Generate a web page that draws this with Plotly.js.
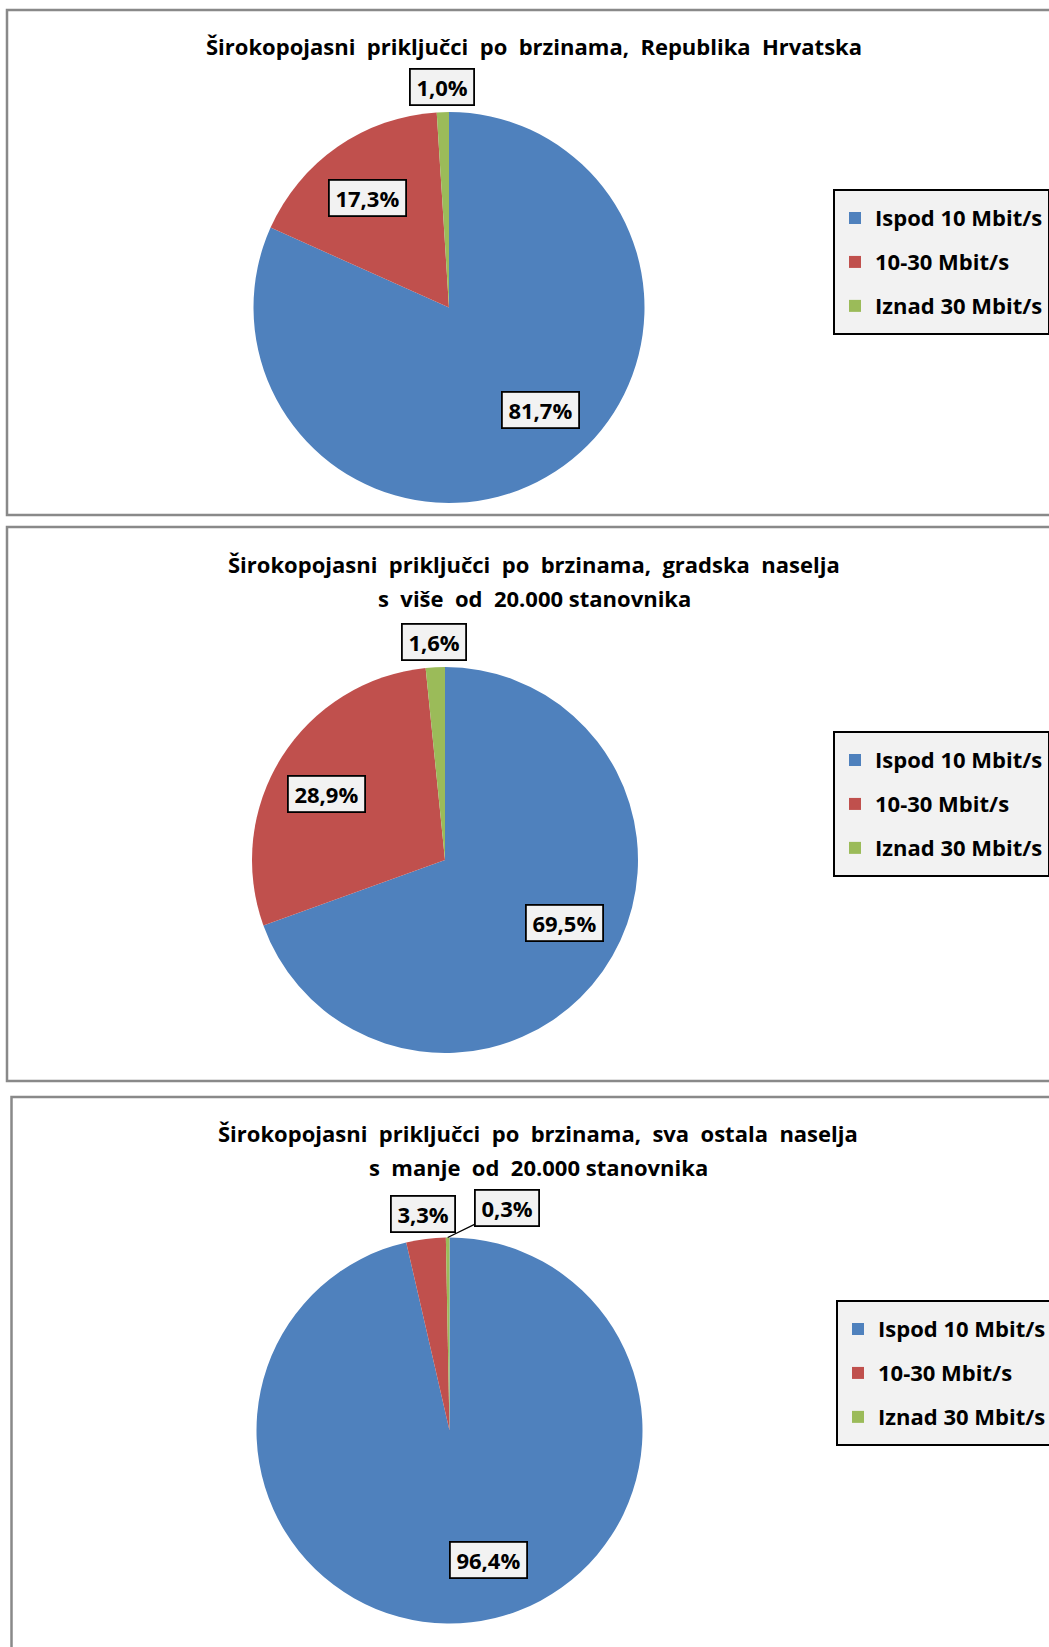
<!DOCTYPE html>
<html>
<head>
<meta charset="utf-8">
<script src="https://cdn.plot.ly/plotly-3.0.1.min.js"></script>
<style>html,body{margin:0;padding:0;background:#fff;}#chart{width:1049px;height:1647px;}</style>
</head>
<body>
<div id="chart"></div>
<script>
// ---- data ----
const categories = ['Ispod 10 Mbit/s', '10-30 Mbit/s', 'Iznad 30 Mbit/s'];
const valuesHrvatska = [81.7, 17.3, 1.0];
const valuesGradska = [69.5, 28.9, 1.6];
const valuesOstala = [96.4, 3.3, 0.3];
const titleHrvatska = ['Širokopojasni  priključci  po  brzinama,  Republika  Hrvatska'];
const titleGradska = ['Širokopojasni  priključci  po  brzinama,  gradska  naselja', 's  više  od  20.000 stanovnika'];
const titleOstala = ['Širokopojasni  priključci  po  brzinama,  sva  ostala  naselja', 's  manje  od  20.000 stanovnika'];
const sliceColors = ['#4F81BD', '#C0504D', '#9BBB59'];

// ---- layout geometry (pixels) ----
const W = 1049, H = 1647;
const FONT = 'Open Sans, Liberation Sans, Arial, sans-serif';
const TITLE_LINE_GAP = 33.5;
const panels = [
  {values: valuesHrvatska, title: titleHrvatska, top: 10, bottom: 515, left: 7, cx: 449, cy: 307.5, r: 195.5, tx: 534, ty: 46, lx: 833, ly: 189, legend: 'legend', group: 'hr'},
  {values: valuesGradska, title: titleGradska, top: 527, bottom: 1081, left: 7, cx: 445, cy: 860, r: 193, tx: 534, ty: 564, lx: 833, ly: 731, legend: 'legend2', group: 'grad'},
  {values: valuesOstala, title: titleOstala, top: 1097, bottom: 1680, left: 11.5, cx: 449.5, cy: 1430.5, r: 193, tx: 538, ty: 1133, lx: 836, ly: 1300, legend: 'legend3', group: 'ost'}
];

const px = x => x / W;
const py = y => 1 - y / H;
const fmt = v => v.toFixed(1).replace('.', ',') + '%';
// approximate advance widths (em) of the label font, used only to size label boxes
const charEm = ch => ch === ',' ? 0.29 : ch === '%' ? 0.87 : 0.572;
const LABEL_SIZE = 22;
const textWidth = s => s.split('').reduce((a, c) => a + charEm(c) * LABEL_SIZE, 0);

const traces = [];
const shapes = [];
const annotations = [];
const layout = {
  width: W, height: H,
  margin: {l: 0, r: 0, t: 0, b: 0, autoexpand: false},
  paper_bgcolor: '#ffffff',
  showlegend: true,
  font: {family: FONT, color: '#000'}
};

panels.forEach(p => {
  traces.push({
    type: 'pie',
    labels: categories.map(c => '<span style="font-size:22px;baseline-shift:4px">' + c + '</span>'),
    values: p.values,
    sort: false,
    direction: 'clockwise',
    rotation: 0,
    textinfo: 'none',
    hoverinfo: 'label+percent',
    marker: {colors: sliceColors, line: {width: 0}},
    domain: {x: [px(p.cx - p.r), px(p.cx + p.r)], y: [py(p.cy + p.r), py(p.cy - p.r)]},
    legend: p.legend,
    legendgroup: p.group,
    showlegend: true
  });

  shapes.push({
    type: 'rect', xref: 'paper', yref: 'paper', layer: 'below',
    x0: px(p.left), x1: px(W + 10), y0: py(p.bottom), y1: py(p.top),
    line: {color: '#898989', width: 2.5}, fillcolor: 'rgba(0,0,0,0)'
  });

  p.title.forEach((line, k) => {
    annotations.push({
      xref: 'paper', yref: 'paper', x: px(p.tx), y: py(p.ty + k * TITLE_LINE_GAP),
      xanchor: 'center', yanchor: 'middle', showarrow: false,
      text: line, align: 'center',
      font: {family: FONT, size: 22, weight: 700, color: '#000'}
    });
  });

  layout[p.legend] = {
    x: px(p.lx), y: py(p.ly), xanchor: 'left', yanchor: 'top',
    bgcolor: '#F2F2F2', bordercolor: '#000', borderwidth: 2,
    font: {family: FONT, size: 31.5, weight: 700, color: '#000'},
    traceorder: 'normal'
  };

  // boxed data labels positioned from slice angles
  const total = p.values.reduce((a, b) => a + b, 0);
  let cum = 0;
  let prevOutside = null;
  p.values.forEach((v, i) => {
    const frac = v / total;
    const inside = frac > 0.1;
    const mid = (cum + frac * (inside ? 0.47 : 0.5)) * 2 * Math.PI;
    cum += frac;
    const text = fmt(v);
    const tw = textWidth(text) + 6;
    const boxW = tw + 2 * (3 + 1.8);
    const rr = inside ? 0.7 : 1.13;
    let x = p.cx + rr * p.r * Math.sin(mid);
    const y = p.cy - rr * p.r * Math.cos(mid);
    const base = {
      xref: 'paper', yref: 'paper', text: text,
      font: {family: FONT, size: LABEL_SIZE, weight: 700, color: '#000'},
      bgcolor: '#F2F2F2', bordercolor: '#000', borderwidth: 1.8, borderpad: 3,
      width: tw, height: 28,
      xanchor: 'center', yanchor: 'middle'
    };
    if (!inside && prevOutside && x - boxW / 2 < prevOutside.x + prevOutside.w / 2 + 8) {
      x = prevOutside.x + prevOutside.w / 2 + 18 + boxW / 2;
      const ex = p.cx + p.r * Math.sin(mid);
      const ey = p.cy - p.r * Math.cos(mid);
      annotations.push(Object.assign(base, {
        x: px(ex), y: py(ey), showarrow: true, arrowhead: 0, arrowwidth: 1.3,
        arrowcolor: '#000', ax: x - ex, ay: (y - 4) - ey
      }));
    } else {
      annotations.push(Object.assign(base, {x: px(x), y: py(y), showarrow: false}));
    }
    if (!inside) prevOutside = {x: x, w: boxW};
  });
});

layout.shapes = shapes;
layout.annotations = annotations;

Plotly.newPlot('chart', traces, layout, {displayModeBar: false, responsive: false});
</script>
</body>
</html>
